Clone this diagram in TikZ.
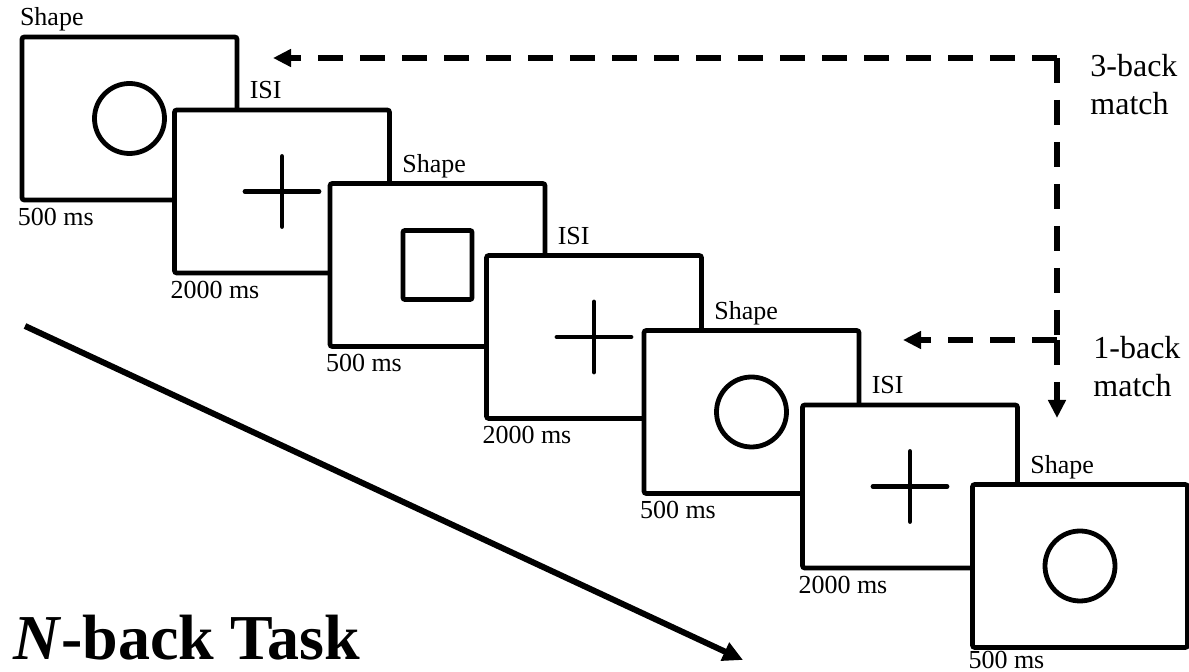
\documentclass[tikz,border=0pt]{standalone}
\usepackage{fontspec}
\setmainfont{Liberation Serif}
\usetikzlibrary{arrows.meta}
\begin{document}
\begin{tikzpicture}[x=0.5pt,y=-0.5pt,
  frame/.style={draw, line width=2.4pt, fill=white, rounded corners=1.2pt,
    minimum width=107.5pt, minimum height=81.5pt, inner sep=0pt},
  glyph/.style={line width=2.4pt, line cap=round},
  lbl/.style={anchor=base west, inner sep=0pt, font=\fontsize{13}{15}\selectfont},
  toplbl/.style={lbl, xshift=5pt, yshift=4.5pt},
  timelbl/.style={lbl, xshift=-1pt, yshift=-11.5pt},
  side/.style={anchor=base west, inner sep=0pt, align=left,
    font=\fontsize{16}{19}\selectfont},
  dsh/.style={line width=3.2pt, dash pattern=on 12.5pt off 8.5pt},
  tip/.style={-{Triangle[length=9pt,width=8.5pt]}},
]
\useasboundingbox (0,0) rectangle (1189,672);

% stimulus frames, later ones on top
\node[frame] (f1) at (129.5,118.5) {};
\draw[glyph] (f1.center) circle [radius=35];
\node[frame] (f2) at (282,191.5) {};
\draw[glyph] ([xshift=-18.5pt]f2.center) -- ([xshift=18.5pt]f2.center)
             ([yshift=-17.5pt]f2.center) -- ([yshift=17.5pt]f2.center);
\node[frame] (f3) at (437.5,265) {};
\draw[line width=2.4pt, rounded corners=1pt] ([xshift=-17.25pt,yshift=-17.25pt]f3.center) rectangle ([xshift=17.25pt,yshift=17.25pt]f3.center);
\node[frame] (f4) at (594,337) {};
\draw[glyph] ([xshift=-18.5pt]f4.center) -- ([xshift=18.5pt]f4.center)
             ([yshift=-17.5pt]f4.center) -- ([yshift=17.5pt]f4.center);
\node[frame] (f5) at (751.5,412) {};
\draw[glyph] (f5.center) circle [radius=35];
\node[frame] (f6) at (910,486.5) {};
\draw[glyph] ([xshift=-18.5pt]f6.center) -- ([xshift=18.5pt]f6.center)
             ([yshift=-17.5pt]f6.center) -- ([yshift=17.5pt]f6.center);
\node[frame] (f7) at (1080,566) {};
\draw[glyph] (f7.center) circle [radius=35];

% event labels above the frames
\node[lbl, yshift=4.5pt] (l1) at (f1.north west) {Shape};
\node[toplbl] (l2) at (f1.east |- f2.north) {ISI};
\node[toplbl] (l3) at (f2.east |- f3.north) {Shape};
\node[toplbl] (l4) at (f3.east |- f4.north) {ISI};
\node[toplbl] (l5) at (f4.east |- f5.north) {Shape};
\node[toplbl] (l6) at (f5.east |- f6.north) {ISI};
\node[toplbl] (l7) at (f6.east |- f7.north) {Shape};

% durations below the frames
\node[timelbl] (d1) at (f1.south west) {500 ms};
\node[timelbl] (d2) at (f2.south west) {2000 ms};
\node[timelbl] (d3) at (f3.south west) {500 ms};
\node[timelbl] (d4) at (f4.south west) {2000 ms};
\node[timelbl] (d5) at (f5.south west) {500 ms};
\node[timelbl] (d6) at (f6.south west) {2000 ms};
\node[lbl, xshift=-1pt, yshift=-9.5pt] (d7) at (f7.south west) {500 ms};

% match arrows
\coordinate (k3) at (1057,58);
\coordinate (t3) at (273,58);
\coordinate (k1) at (1057,340);
\coordinate (t1) at (903,340);
\coordinate (tdown) at (1057,418);
\draw[dsh, tip] (k3) -- (t3);
\draw[dsh] (k3) -- (k1);
\draw[dsh, tip] (k1) -- (t1);
\draw[dsh, tip] (k1) -- (tdown);

\node[side] (m3) at (1090,115) {3-back\\match};
\node[side] (m1) at (1093,397) {1-back\\match};

% time direction
\coordinate (a0) at (25,326);
\coordinate (a1) at (743,660);
\draw[line width=3pt, -{Triangle[length=10pt,width=9.5pt]}] (a0) -- (a1);

\node[anchor=base west, inner sep=0pt, font=\bfseries\fontsize{32}{38}\selectfont] (title) at (13,660) {\textit{N}-back Task};
\end{tikzpicture}
\end{document}
